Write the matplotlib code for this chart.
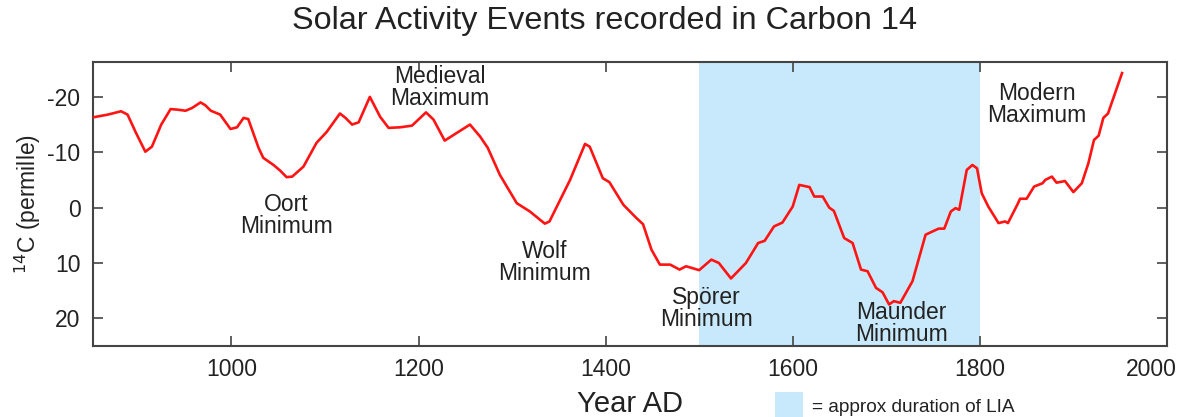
import matplotlib
matplotlib.use("Agg")
import matplotlib.pyplot as plt
import matplotlib.transforms as mtransforms
from matplotlib.patches import Rectangle

plt.rcParams['font.family'] = ['Liberation Sans', 'DejaVu Sans']
plt.rcParams['axes.unicode_minus'] = False

years = [852, 868, 882, 889, 898, 908, 915, 925, 935, 942, 951, 958, 967, 972, 978, 988,
         999, 1006, 1013, 1018, 1029, 1034, 1045, 1052, 1059, 1065, 1077, 1091, 1102, 1116,
         1122, 1129, 1136, 1148, 1159, 1168, 1180, 1193, 1208, 1216, 1228, 1241, 1255, 1266,
         1274, 1287, 1305, 1319, 1335, 1340, 1362, 1378, 1383, 1397, 1404, 1419, 1433, 1440,
         1449, 1458, 1469, 1479, 1486, 1500, 1513, 1521, 1534, 1550, 1563, 1570, 1580, 1589,
         1600, 1607, 1618, 1623, 1632, 1639, 1644, 1655, 1664, 1673, 1680, 1689, 1696, 1703,
         1708, 1715, 1728, 1742, 1747, 1756, 1762, 1769, 1774, 1778, 1786, 1792, 1797, 1802,
         1809, 1820, 1827, 1830, 1840, 1843, 1850, 1858, 1867, 1870, 1877, 1882, 1891, 1900,
         1909, 1916, 1922, 1927, 1932, 1937, 1952]
c14 = [-16.3, -16.8, -17.4, -16.8, -13.5, -10.1, -11.0, -15.0, -17.8, -17.7, -17.5, -18.0,
       -19.0, -18.5, -17.5, -16.8, -14.2, -14.5, -16.2, -16.0, -10.8, -9.0, -7.7, -6.7, -5.5,
       -5.6, -7.4, -11.7, -13.7, -17.0, -16.2, -15.0, -15.4, -20.0, -16.4, -14.4, -14.5,
       -14.8, -17.2, -15.9, -12.1, -13.5, -15.0, -12.8, -10.8, -5.9, -0.8, 0.7, 2.9, 2.5,
       -5.0, -11.5, -11.0, -5.3, -4.6, -0.5, 1.9, 3.0, 7.6, 10.3, 10.3, 11.2, 10.6, 11.3,
       9.4, 10.0, 12.8, 10.0, 6.4, 6.0, 3.4, 2.7, -0.2, -4.1, -3.7, -2.0, -2.0, 0.0, 0.6,
       5.5, 6.4, 11.2, 11.5, 14.5, 15.3, 17.5, 16.9, 17.2, 13.3, 4.9, 4.5, 3.8, 3.8, 0.7,
       0.1, 0.4, -6.8, -7.7, -7.1, -2.6, -0.2, 2.8, 2.5, 2.8, -0.5, -1.6, -1.6, -3.8, -4.4,
       -5.0, -5.6, -4.5, -4.8, -2.8, -4.4, -8.0, -12.2, -13.0, -16.2, -17.0, -24.3]

lia_start, lia_end = 1500, 1800
event_labels = ["Medieval\nMaximum", "Oort\nMinimum", "Wolf\nMinimum",
                "Spörer\nMinimum", "Maunder\nMinimum", "Modern\nMaximum"]
event_x = [1223, 1059, 1335, 1508, 1716, 1861]
event_y = [-21.7, 1.4, 9.9, 18.2, 21.0, -18.7]
xticks = [1000, 1200, 1400, 1600, 1800, 2000]
yticks = [-20, -10, 0, 10, 20]

txt = '#222222'
fig = plt.figure(figsize=(11.81, 4.17), dpi=100)
ax = fig.add_axes([0.0787, 0.1703, 0.9094, 0.681])
ax.axvspan(lia_start, lia_end, color='#c8e9fb', lw=0, zorder=0)
ax.plot(years, c14, color='#ff1414', lw=1.9, zorder=3)
for lab, x, y in zip(event_labels, event_x, event_y):
    ax.text(x, y, lab, ha='center', va='center', fontsize=16.5, color=txt,
            linespacing=0.95, zorder=4)

ax.set_xlim(852, 2000)
ax.set_ylim(25, -26.3)
ax.set_xticks(xticks)
ax.set_yticks(yticks)
ax.tick_params(direction='in', length=7, width=1.2, colors='#444444',
               labelcolor=txt, labelsize=16.5, top=True, right=True,
               labeltop=False, labelright=False, pad=9)
for s in ax.spines.values():
    s.set_color('#444444')
    s.set_linewidth(1.5)

# last x tick label sits slightly left so it stays inside the figure
last = ax.get_xticklabels()[-1]
last.set_horizontalalignment('right')
last.set_transform(last.get_transform() +
                   mtransforms.ScaledTranslation(10 / 100, 0, fig.dpi_scale_trans))

ax.set_xlabel('Year AD', fontsize=21, color=txt, labelpad=6)
ax.set_ylabel('$^{14}$C (permille)', fontsize=16.5, color=txt, labelpad=3)
fig.suptitle('Solar Activity Events recorded in Carbon 14', fontsize=23.3, color=txt,
             x=0.512, y=0.985)

fig.patches.append(Rectangle((775/1181, 0.0), 28/1181, 25/417, transform=fig.transFigure,
                             facecolor='#c8e9fb', edgecolor='none'))
fig.text(812/1181, 1 - 407/417, '= approx duration of LIA', fontsize=13.7, color=txt,
         ha='left', va='center')

fig.savefig('out.png', dpi=100)
